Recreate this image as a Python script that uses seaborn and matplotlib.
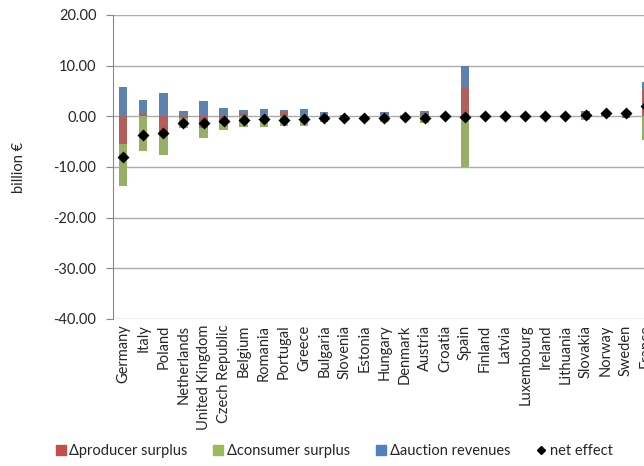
import numpy as np
import pandas as pd
import seaborn as sns
import matplotlib.pyplot as plt
from matplotlib.lines import Line2D

countries = ['Germany', 'Italy', 'Poland', 'Netherlands', 'United Kingdom',
             'Czech Republic', 'Belgium', 'Romania', 'Portugal', 'Greece',
             'Bulgaria', 'Slovenia', 'Estonia', 'Hungary', 'Denmark', 'Austria',
             'Croatia', 'Spain', 'Finland', 'Latvia', 'Luxembourg', 'Ireland',
             'Lithuania', 'Slovakia', 'Norway', 'Sweden', 'France']
producer = [-5.4, 0.5, -3.9, -0.3, -2.4, -1.3, 0.65, 0.0, 0.8, 0.0,
            0.0, 0.0, -0.1, 0.0, 0.0, 0.6, 0.0, 5.8, 0.0, 0.0,
            0.0, 0.0, 0.0, 0.1, 0.2, -0.3, 5.1]
consumer = [-8.4, -6.9, -3.8, -2.1, -1.9, -1.4, -2.1, -2.1, -1.9, -2.0,
            -1.2, -0.5, -0.35, -1.1, -0.3, -1.4, -0.1, -10.0, -0.2, 0.0,
            0.0, 0.0, 0.0, -0.7, -0.05, 0.7, -4.6]
auction = [5.7, 2.8, 4.5, 1.0, 3.0, 1.7, 0.65, 1.5, 0.45, 1.45,
           0.8, 0.2, 0.15, 0.8, 0.2, 0.45, 0.1, 4.1, 0.2, 0.0,
           0.0, 0.0, 0.0, 0.9, 0.5, 0.2, 1.6]

series = {'Δproducer surplus': (producer, '#C0504D'),
          'Δconsumer surplus': (consumer, '#9BBB59'),
          'Δauction revenues': (auction, '#4F81BD')}

net = np.sum([producer, consumer, auction], axis=0)

sns.set_style('white')
plt.rcParams['font.family'] = ['Lato', 'DejaVu Sans']

fig = plt.figure(figsize=(6.44, 4.66), dpi=100)
ax = fig.add_axes([0.1755, 0.3155, 0.843, 0.6524])

# excel-style stacking: positives and negatives pile up separately
pos_base = np.zeros(len(countries))
neg_base = np.zeros(len(countries))
for name, (vals, col) in series.items():
    vals = np.array(vals)
    bottom = np.where(vals >= 0, pos_base, neg_base)
    sns.barplot(x=countries, y=vals, bottom=bottom, color=col, width=0.42,
                linewidth=0, ax=ax, errorbar=None, zorder=2)
    pos_base += np.clip(vals, 0, None)
    neg_base += np.clip(vals, None, 0)

sns.pointplot(x=countries, y=net, linestyle='none', marker='D', color='black',
              markersize=4.5, ax=ax, errorbar=None, zorder=3)

ax.set_xlim(-0.5, len(countries) - 0.5)
ax.set_ylim(-40, 20)
ax.set_yticks(np.arange(-40, 21, 10))
ax.set_yticklabels([f'{v:.2f}' for v in np.arange(-40, 21, 10)], fontsize=10.5)
ax.yaxis.grid(True, color='#ABABAB', linewidth=1, zorder=0)
ax.set_axisbelow(True)
ax.tick_params(axis='x', labelrotation=90, labelsize=10.5, length=0, pad=4)
ax.tick_params(axis='y', length=5, color='#888888', left=True, pad=7)
for s in ['top', 'right', 'bottom']:
    ax.spines[s].set_visible(False)
ax.spines['left'].set_color('#888888')
ax.set_xlabel('')
ax.set_ylabel('billion €', fontsize=10.5)
ax.yaxis.set_label_coords(-0.16, 0.5)

handles = [Line2D([], [], marker='s', linestyle='none', color=c, markersize=7)
           for _, c in series.values()]
handles.append(Line2D([], [], marker='D', linestyle='none', color='black', markersize=4.5))
labels = list(series.keys()) + ['net effect']
fig.legend(handles, labels, loc='center', bbox_to_anchor=(0.517, 0.032), ncol=4,
           frameon=False, fontsize=10.5, handletextpad=0.1, columnspacing=1.6,
           handlelength=1.0)

fig.savefig('out.png', dpi=100)
